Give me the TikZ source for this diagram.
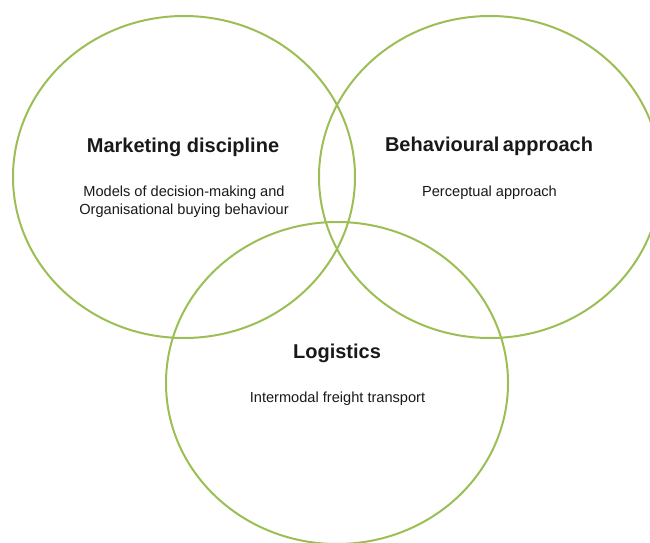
\documentclass[tikz,border=0pt]{standalone}
\usepackage{fontspec}
\setmainfont{Liberation Sans}
\definecolor{venngreen}{RGB}{155,190,85}
\definecolor{txt}{RGB}{25,25,25}
\begin{document}
\begin{tikzpicture}[x=1pt,y=-1pt,
  ring/.style={draw=venngreen,line width=2pt},
  head/.style={anchor=base,inner sep=0pt,text=txt,font=\fontsize{20}{24}\selectfont\bfseries},
  sub/.style={anchor=base,inner sep=0pt,text=txt,font=\fontsize{14.6}{18}\selectfont}]
\useasboundingbox (0,0) rectangle (650,543);
\clip (0,0) rectangle (650,543);
\coordinate (cl) at (184,177);
\coordinate (cr) at (490,177);
\coordinate (cb) at (337,383);
\draw[ring] (cl) ellipse [x radius=171, y radius=161];
\draw[ring] (cr) ellipse [x radius=171, y radius=161];
\draw[ring] (cb) ellipse [x radius=171, y radius=161];
\node[head] (mk) at (183,152) {Marketing discipline};
\node[sub] (mk1) at (184,196.5) {Models of decision-making and};
\node[sub] (mk2) at (184,214.5) {Organisational buying behaviour};
\node[head] (bh) at (489,151.5) {Behavioural\hspace{3.5pt}approach};
\node[sub] (bh1) at (489.5,196.5) {Perceptual approach};
\node[head] (lg) at (337,358) {Logistics};
\node[sub] (lg1) at (337.5,402.5) {Intermodal freight transport};
\end{tikzpicture}
\end{document}
